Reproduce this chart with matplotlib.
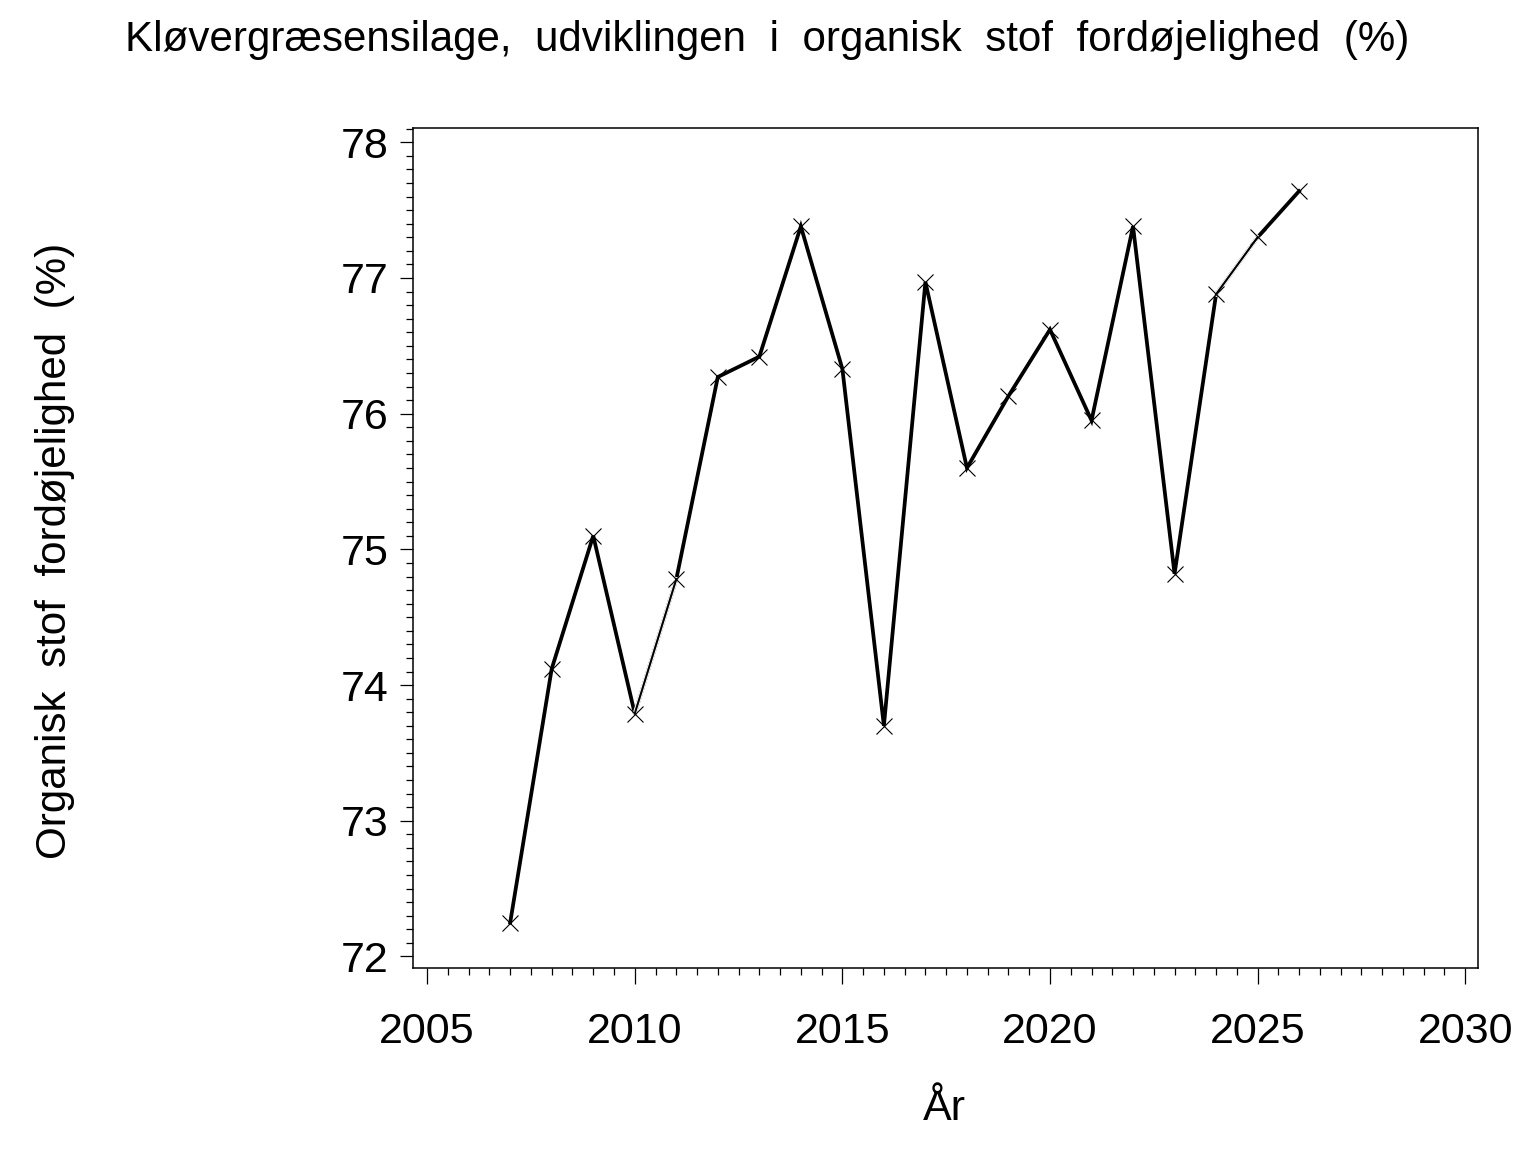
import matplotlib
matplotlib.use("Agg")
import matplotlib.pyplot as plt
from matplotlib.ticker import MultipleLocator

# data
aar = [2007, 2008, 2009, 2010, 2011, 2012, 2013, 2014, 2015, 2016,
       2017, 2018, 2019, 2020, 2021, 2022, 2023, 2024, 2025, 2026]
fordoejelighed = [72.25, 74.12, 75.10, 73.79, 74.78, 76.27, 76.42, 77.38, 76.33, 73.70,
                  76.97, 75.60, 76.13, 76.62, 75.95, 77.38, 74.82, 76.88, 77.30, 77.64]
# segments drawn with a thinner line (start index)
tynde_segmenter = [3, 17]

TITEL = "Kløvergræsensilage,  udviklingen  i  organisk  stof  fordøjelighed  (%)"
Y_LABEL = "Organisk  stof  fordøjelighed  (%)"
X_LABEL = "År"

plt.rcParams["font.family"] = ["Liberation Sans", "DejaVu Sans"]

fig = plt.figure(figsize=(15.36, 11.52), dpi=100)
ax = fig.add_axes([0.2689, 0.1597, 0.6934, 0.7292])

# thick line, with thin pieces drawn over white where the reference is thinner
ax.plot(aar, fordoejelighed, color="black", lw=2.7, solid_joinstyle="miter", zorder=2)
for i in tynde_segmenter:
    ax.plot(aar[i:i + 2], fordoejelighed[i:i + 2], color="white", lw=3.0, zorder=3)
    ax.plot(aar[i:i + 2], fordoejelighed[i:i + 2], color="black", lw=1.5, zorder=4)
ax.plot(aar, fordoejelighed, ls="none", marker="x", ms=12, mew=0.8, color="black", zorder=5)

ax.set_xlim(2004.66, 2030.31)
ax.set_ylim(71.915, 78.105)
ax.xaxis.set_major_locator(MultipleLocator(5))
ax.xaxis.set_minor_locator(MultipleLocator(0.5))
ax.yaxis.set_major_locator(MultipleLocator(1))
ax.yaxis.set_minor_locator(MultipleLocator(0.1))

for s in ax.spines.values():
    s.set_linewidth(1.1)

ax.tick_params(axis="x", which="major", direction="out", length=11.5, width=0.9,
               pad=20, labelsize=31)
ax.tick_params(axis="x", which="minor", direction="out", length=5, width=0.9)
ax.tick_params(axis="y", which="major", direction="out", length=9.4, width=0.9,
               pad=8, labelsize=31)
ax.tick_params(axis="y", which="minor", direction="out", length=5, width=0.9)

fig.text(0.4997, 0.965, TITEL, ha="center", va="center", fontsize=30.3)
fig.text(0.036, 0.522, Y_LABEL, ha="center", va="center", rotation=90, fontsize=30.3)
fig.text(0.615, 0.037, X_LABEL, ha="center", va="center", fontsize=31)

fig.savefig("out.png", dpi=100)
